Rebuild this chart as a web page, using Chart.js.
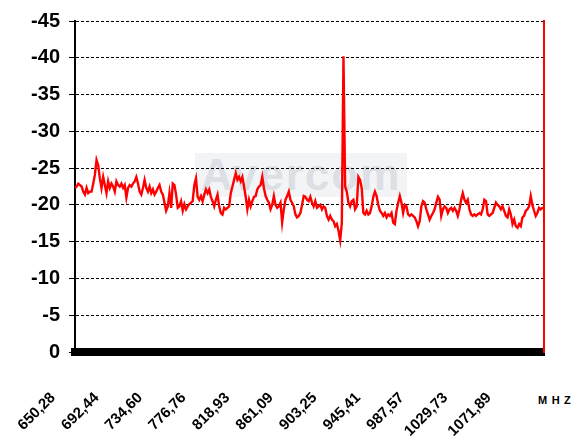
<!DOCTYPE html>
<html>
<head>
<meta charset="utf-8">
<script src="https://cdn.jsdelivr.net/npm/chart.js@4"></script>
<style>
  body { margin: 0; background: #fff; }
  #wrap { position: relative; width: 586px; height: 441px; }
  #mark { position: absolute; left: 195px; top: 153px; width: 212px; height: 44px; background: #f3f4f6; color: #dcdfe4;
          font: bold 44px "Liberation Sans", Arial, sans-serif; line-height: 44px; letter-spacing: 2px; text-align: center; }
  #unit { position: absolute; left: 538px; top: 394px; font: bold 11px "Liberation Sans", Arial, sans-serif; letter-spacing: 4.5px; }
  canvas { position: absolute; left: 0; top: 0; }
</style>
</head>
<body>
<div id="wrap">
  <div id="mark">Avercom</div>
  <div id="unit">MHZ</div>
  <canvas id="spectrum" width="586" height="441"></canvas>
</div>
<script>
// sweep limits (MHz) and frequency tick labels
const sweepStart = 650.28;
const sweepStop = 1103.8;
const freqLabels = ["650,28", "692,44", "734,60", "776,76", "818,93", "861,09", "903,25", "945,41", "987,57", "1029,73", "1071,89"];
const levelTicks = [-45, -40, -35, -30, -25, -20, -15, -10, -5, 0];

const levels = [
  -22.3, -22.5, -22.9, -22.7, -22.5, -21.8, -21.4, -22.3, -21.6, -21.8, -21.8, -22.9, -24.1, -26.1, -25.4, -23.6,
  -22.3, -23.8, -22.7, -21.6, -23.2, -22.3, -22.9, -22.5, -21.8, -23.2, -22.7, -22.5, -22.9, -22.3, -22.7, -21.0,
  -22.3, -22.7, -22.5, -22.9, -23.2, -23.8, -22.9, -21.8, -21.4, -22.3, -23.4, -22.3, -21.8, -22.5, -21.6, -22.1,
  -21.4, -21.8, -22.3, -22.7, -21.8, -21.4, -20.3, -19.2, -19.8, -21.6, -19.6, -22.9, -22.7, -21.4, -19.6, -19.8,
  -20.5, -19.2, -20.1, -19.4, -19.8, -20.1, -20.3, -20.5, -22.7, -23.6,
  -21.1, -20.7, -21.2, -20.5, -21.4, -22.1, -21.6, -22.1, -21.1, -20.5, -19.8, -20.7, -21.4, -19.8, -18.9, -18.7,
  -19.6, -19.4, -19.6, -19.8, -21.6, -22.5, -23.4, -24.3, -23.4, -23.8, -23.2, -23.8, -22.5, -21.1, -19.4, -20.7,
  -19.8, -20.5, -21.1, -21.2, -22.1, -22.5, -22.7, -23.8, -22.3, -21.2, -20.7, -20.3, -19.4, -20.0, -21.2, -20.0,
  -19.6, -19.8, -20.3, -17.6, -19.4, -20.7, -21.2, -21.8, -20.7, -20.3, -19.8, -18.7, -18.3, -18.5, -18.9, -20.0,
  -21.2, -21.1, -20.7, -20.5, -21.1, -20.3, -19.8, -20.5,
  -19.6, -19.8, -20.0, -19.4, -19.8, -19.6, -18.5, -18.0, -18.5, -18.0, -17.8, -17.1, -17.4, -16.5, -15.2, -17.5,
  -40.2, -22.5, -21.8, -20.3, -19.8, -20.5, -20.7, -19.4, -19.8, -23.8, -23.4, -22.3, -18.9, -18.7, -19.2, -18.7,
  -18.9, -19.8, -21.1, -21.8, -21.2, -20.0, -19.2, -18.9, -18.5, -18.9, -18.3, -18.7, -18.5, -18.9, -17.6, -17.4,
  -19.2, -20.3, -21.2, -20.3, -18.9, -20.0, -19.8, -18.7, -18.5, -18.7, -18.5, -18.3, -17.8, -17.1, -17.8, -19.8,
  -20.5, -20.3, -19.4, -18.7, -18.0, -18.5, -18.9, -19.4,
  -20.3, -21.1, -20.7, -18.5, -19.4, -19.8, -19.6, -18.9, -19.4, -19.6, -19.2, -19.6, -19.2, -18.5, -19.4, -20.7,
  -21.6, -20.7, -20.3, -20.7, -19.4, -18.7, -18.5, -18.7, -18.5, -18.7, -18.9, -18.7, -19.4, -20.7, -20.5, -18.7,
  -18.5, -18.7, -18.9, -19.6, -20.3, -20.0, -19.8, -19.4, -19.8, -19.2, -18.5, -18.3, -19.4, -18.7, -17.4, -18.0,
  -17.1, -16.9, -17.4, -17.1, -18.3, -18.5, -19.2, -19.4, -19.8, -21.2, -20.0, -19.2, -18.5, -18.9, -19.6, -19.4,
  -19.6, -19.6
];

const step = (sweepStop - sweepStart) / (levels.length - 1);
const points = levels.map((v, i) => ({ x: sweepStart + i * step, y: v }));
const font = 'Liberation Sans, Arial, sans-serif';

new Chart(document.getElementById('spectrum'), {
  type: 'line',
  data: {
    datasets: [{ data: points, borderColor: '#ff0000', borderWidth: 2.4, pointRadius: 0, tension: 0 }]
  },
  options: {
    responsive: false,
    animation: false,
    layout: { padding: { top: 16 } },
    plugins: { legend: { display: false }, tooltip: { enabled: false } },
    scales: {
      x: {
        type: 'linear',
        min: sweepStart,
        max: sweepStop,
        afterFit: s => { s.height = 89; },
        afterBuildTicks: s => { s.ticks = freqLabels.map(t => ({ value: parseFloat(t.replace(',', '.')) })); },
        grid: { drawOnChartArea: false, drawTicks: false },
        border: { color: '#000', width: 8 },
        ticks: {
          autoSkip: false, minRotation: 45, maxRotation: 45, padding: 37, labelOffset: -22,
          color: '#000', font: { family: font, size: 15, weight: 'bold' },
          callback: v => v.toFixed(2).replace('.', ',')
        }
      },
      y: {
        min: -45,
        max: 0,
        reverse: true,
        afterFit: s => { s.width = 75; },
        afterBuildTicks: s => { s.ticks = levelTicks.map(v => ({ value: v })); },
        grid: { color: '#000', lineWidth: 1, tickLength: 6, tickColor: '#000' },
        border: { color: '#000', width: 2, dash: [3, 2] },
        ticks: { padding: 9, color: '#000', font: { family: font, size: 20, weight: 'bold' } }
      },
      y2: {
        position: 'right',
        afterFit: s => { s.width = 42; },
        grid: { display: false },
        border: { color: '#ff0000', width: 2 },
        ticks: { display: false }
      }
    }
  }
});
</script>
</body>
</html>
